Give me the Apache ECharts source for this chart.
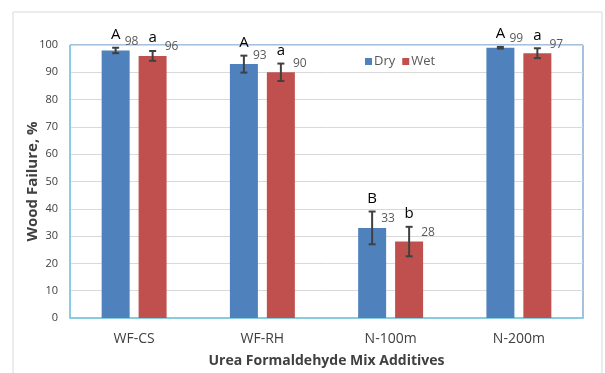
<!DOCTYPE html>
<html>
<head>
<meta charset="utf-8">
<script src="https://cdn.jsdelivr.net/npm/echarts@6/dist/echarts.min.js"></script>
<style>
  html, body { margin: 0; padding: 0; background: #fff; }
  #chart { width: 605px; height: 373px; }
</style>
</head>
<body>
<div id="chart"></div>
<script>
const categories = ['WF-CS', 'WF-RH', 'N-100m', 'N-200m']
const dryValues = [98, 93, 33, 99]
const wetValues = [96, 90, 28, 97]
const dryErrors = [1, 3.1, 6, 0.3]
const wetErrors = [1.8, 3.2, 5.4, 1.8]
const dryLetters = ['A', 'A', 'B', 'A']
const wetLetters = ['a', 'a', 'b', 'a']
const yTicks = [0, 10, 20, 30, 40, 50, 60, 70, 80, 90, 100]

const BLUE = '#4f81bd'
const RED = '#c0504d'
const font = 'Open Sans, Liberation Sans, sans-serif'

const chart = echarts.init(document.getElementById('chart'))

// error bars + letters + value labels, drawn on top of each bar series
const errorSeries = (name, values, errors, letters, shift, labelDx) => ({
  name: name,
  type: 'custom',
  z: 5,
  silent: true,
  data: values.map((v, i) => [i, v, errors[i]]),
  renderItem: (params, api) => {
    const i = api.value(0)
    const v = api.value(1)
    const e = api.value(2)
    const top = api.coord([i, v + e])
    const bot = api.coord([i, v - e])
    const bar = api.coord([i, v])
    const x = top[0] + shift
    const cap = 3.5
    const line = { stroke: '#404040', lineWidth: 2 }
    return {
      type: 'group',
      children: [
        { type: 'line', shape: { x1: x, y1: top[1], x2: x, y2: bot[1] }, style: line },
        { type: 'line', shape: { x1: x - cap, y1: top[1], x2: x + cap, y2: top[1] }, style: line },
        { type: 'line', shape: { x1: x - cap, y1: bot[1], x2: x + cap, y2: bot[1] }, style: line },
        {
          type: 'text',
          style: {
            x: x, y: top[1] - 13, text: letters[params.dataIndex],
            fill: '#000', font: '500 15px ' + font,
            align: 'center', verticalAlign: 'middle'
          }
        },
        {
          type: 'text',
          style: {
            x: x + labelDx, y: bar[1] - 9, text: String(v),
            fill: '#595959', font: '12px ' + font,
            align: 'left', verticalAlign: 'middle'
          }
        }
      ]
    }
  }
})

chart.setOption({
  animation: false,
  textStyle: { fontFamily: font },
  graphic: [{
    type: 'rect',
    shape: { x: 13, y: 12, width: 589, height: 380 },
    style: { fill: 'none', stroke: '#d9d9d9', lineWidth: 1 },
    silent: true
  }],
  legend: {
    data: ['Dry', 'Wet'],
    left: 360,
    top: 50,
    itemWidth: 7,
    itemHeight: 7,
    itemGap: 7,
    icon: 'rect',
    textStyle: { fontSize: 13, color: '#595959', padding: [0, 0, 0, -3] }
  },
  grid: {
    left: 70,
    right: 22,
    top: 45,
    bottom: 55,
    show: true,
    borderColor: BLUE,
    borderWidth: 1
  },
  xAxis: {
    type: 'category',
    data: categories,
    name: 'Urea Formaldehyde Mix Additives',
    nameLocation: 'middle',
    nameGap: 36,
    nameMoveOverlap: false,
    nameTextStyle: { fontSize: 14, fontWeight: 'bold', color: '#404040' },
    axisLine: { lineStyle: { color: '#86cde0', width: 2 } },
    axisTick: { show: false },
    axisLabel: { fontSize: 14, color: '#404040', margin: 14 }
  },
  yAxis: {
    type: 'value',
    min: yTicks[0],
    max: yTicks[yTicks.length - 1],
    interval: yTicks[1] - yTicks[0],
    name: 'Wood Failure, %',
    nameLocation: 'middle',
    nameGap: 30,
    nameMoveOverlap: false,
    nameTextStyle: { fontSize: 15, fontWeight: 'bold', color: '#404040' },
    axisLine: { show: true, lineStyle: { color: '#86cde0', width: 1 } },
    axisTick: { show: false },
    axisLabel: { fontSize: 11, color: '#404040', margin: 12 },
    splitLine: { lineStyle: { color: '#d9d9d9', width: 1 } }
  },
  series: [
    {
      name: 'Dry',
      type: 'bar',
      data: dryValues,
      barWidth: 28,
      barGap: '32%',
      itemStyle: { color: BLUE }
    },
    {
      name: 'Wet',
      type: 'bar',
      data: wetValues,
      barWidth: 28,
      itemStyle: { color: RED }
    },
    errorSeries('DryErr', dryValues, dryErrors, dryLetters, -18.5, 9),
    errorSeries('WetErr', wetValues, wetErrors, wetLetters, 18.5, 12)
  ]
})
</script>
</body>
</html>
